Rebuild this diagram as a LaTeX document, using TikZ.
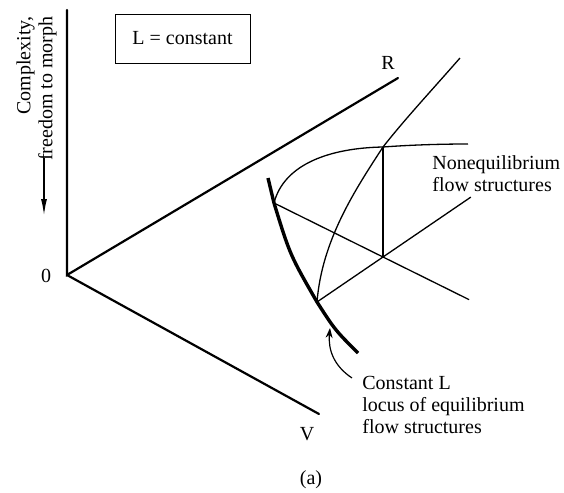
\documentclass[tikz,border=0pt]{standalone}
\usepackage{fontspec}
\setmainfont{Liberation Serif}
\usetikzlibrary{arrows.meta,positioning,calc}

\begin{document}
\begin{tikzpicture}[
  x=0.5pt, y=-0.5pt,
  axis/.style={line width=1.1pt, line cap=round},
  web/.style={line width=0.65pt},
  locus/.style={line width=1.7pt},
  lbl/.style={inner sep=0pt, font=\fontsize{10}{11}\selectfont},
  note/.style={inner sep=0pt, align=left, font=\fontsize{10}{11}\selectfont},
  tag/.style={draw, line width=0.5pt, minimum width=67.5pt, minimum height=24.5pt, font=\fontsize{10}{11}\selectfont},
  arr/.style={-{Stealth[length=5pt, width=3.5pt]}, line width=0.6pt}
]
\useasboundingbox (0,0) rectangle (564,493);

% axes
\coordinate (o) at (67,275);
\coordinate (ctop) at (67,10);
\coordinate (rend) at (398,78);
\coordinate (vend) at (319,414);
\draw[axis] (ctop) -- (o) -- (rend);
\draw[axis] (o) -- (vend);

\node[lbl] (zero) at (46,276) {0};
\node[lbl] (rlab) at (388,63) {R};
\node[lbl] (vlab) at (307,434) {V};
\node[lbl] (cap) at (311,480) {(a)};
\node[tag] (lconst) at (182.5,38.5) {L = constant};

% complexity label and arrow
\node[note, align=right, rotate=90, anchor=east] (cplx) at (36.5,16) {Complexity,\\freedom to morph};
\coordinate (dtop) at (44,158);
\coordinate (dbot) at (44,215);
\draw[-{Latex[length=8pt, width=3pt]}, line width=0.6pt] (dtop) -- (dbot);

% flow structures
\coordinate (a) at (274,203);
\coordinate (b) at (317,302);
\coordinate (c) at (383,147);
\coordinate (d) at (383,257);
\coordinate (ltop) at (268,178);
\coordinate (lbot) at (358,353);

\draw[locus] (ltop) .. controls (271,190) .. (a) .. controls (290,255) .. (b) .. controls (335,330) .. (lbot);
\draw[web] (a) .. controls (284,164) and (330,148) .. (c) .. controls (410,145) and (440,144) .. (468,144);
\draw[web] (b) .. controls (322,240) and (355,190) .. (c) .. controls (405,119) and (432,90) .. (460,58);
\draw[web] (c) -- (d);
\draw[web] (a) -- (d) -- ($(a)!1.79!(d)$);
\draw[web] (b) -- (d) -- ($(b)!2.33!(d)$);

\node[note, anchor=west] (noneq) at (432,174) {Nonequilibrium\\flow structures};
\node[note, anchor=west] (eq) at (362,405) {Constant L\\locus of equilibrium\\flow structures};
\coordinate (tip) at (330,328);
\draw[arr] (352,378) .. controls (334,366) and (328,350) .. (tip);

\end{tikzpicture}
\end{document}
